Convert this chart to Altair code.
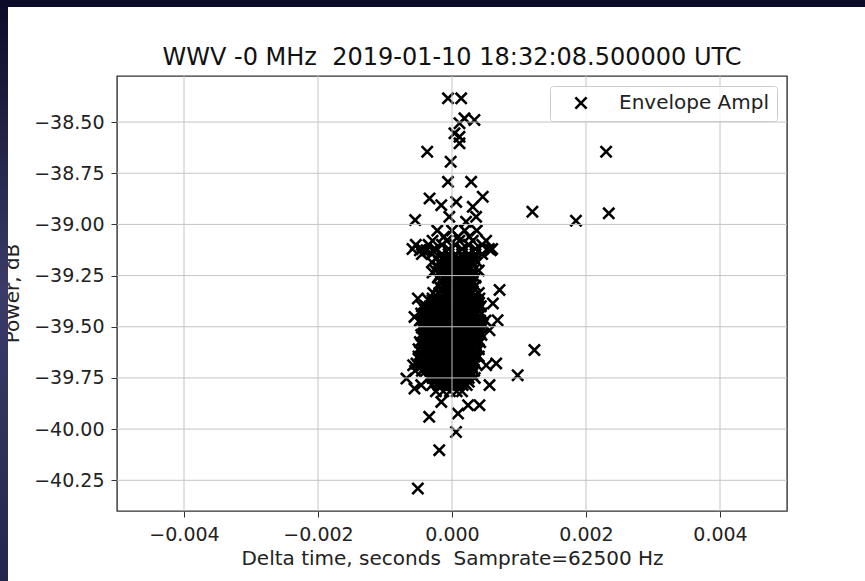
import altair as alt
import pandas as pd

TITLE = "WWV -0 MHz\u00a0 2019-01-10 18:32:08.500000 UTC"
X_TITLE = "Delta time, seconds\u00a0 Samprate=62500 Hz"
Y_TITLE = "Power, dB"
SERIES = "Envelope Ampl"

x_ticks = [-0.004, -0.002, 0.0, 0.002, 0.004]
y_ticks = [-38.5, -38.75, -39.0, -39.25, -39.5, -39.75, -40.0, -40.25]
x_domain = [-0.005, 0.005]
y_domain = [-40.40, -38.275]

# scattered points around the central cluster (seconds, dB)
outlier_x = [-0.6e-4, 1.37e-4, 1.86e-4, 3.35e-4, 1.12e-4, 0.37e-4, 1.12e-4, 1.12e-4,
             -3.7e-4, 23.0e-4, -0.2e-4, -0.6e-4, 2.86e-4, -3.35e-4, 4.59e-4, -1.6e-4,
             0.63e-4, 3.1e-4, 12.0e-4, 23.4e-4, 18.5e-4, -5.5e-4, 3.6e-4, 2.1e-4,
             -0.4e-4, -4.8e-4, -3.8e-4, -2.9e-4, 5.8e-4, -2.9e-4, 3.1e-4, -1.4e-4,
             7.1e-4, -5.1e-4, -2.9e-4, 4.1e-4, 6.1e-4, -5.6e-4, 6.8e-4, 5.6e-4,
             12.3e-4, 6.6e-4, 5.1e-4, -5.8e-4, -6.8e-4, 9.8e-4, -5.6e-4, -4.6e-4,
             5.6e-4, -1.6e-4, 2.4e-4, 4.1e-4, -3.4e-4, 0.9e-4, 0.6e-4, -1.9e-4, -5.1e-4]
outlier_y = [-38.384, -38.384, -38.482, -38.490, -38.506, -38.555, -38.572, -38.604,
             -38.645, -38.645, -38.694, -38.792, -38.792, -38.873, -38.865, -38.906,
             -38.890, -38.914, -38.938, -38.946, -38.982, -38.979, -38.963, -38.987,
             -38.963, -39.126, -39.126, -39.126, -39.126, -39.235, -39.280, -39.280,
             -39.320, -39.362, -39.362, -39.362, -39.386, -39.452, -39.468, -39.517,
             -39.614, -39.679, -39.688, -39.688, -39.753, -39.737, -39.802, -39.785,
             -39.785, -39.867, -39.883, -39.883, -39.940, -39.924, -40.014, -40.103, -40.290]

# dense core of the cluster, read row by row: (dB, [seconds ...])
core_rows = [
    (-39.030, [-2.2e-4, 0.0, 1.9e-4, 3.7e-4]),
    (-39.060, [-1.2e-4, 0.9e-4, 2.6e-4]),
    (-39.080, [-2.9e-4, -0.8e-4, 1.1e-4, 3.1e-4, 5.1e-4]),
    (-39.100, [-5.4e-4, -3.5e-4, -1.5e-4, 0.5e-4, 2.5e-4, 4.5e-4]),
    (-39.120, [-5.9e-4, -4.5e-4, -2.5e-4, -0.5e-4, 1.5e-4, 3.5e-4, 5.5e-4, 6.0e-4]),
    (-39.145, [-4.5e-4, -3.0e-4, -1.5e-4, -0.5e-4, 0.5e-4, 1.5e-4, 2.5e-4, 3.5e-4, 4.5e-4]),
    (-39.165, [-2.3e-4, -1.4e-4, -0.6e-4, 0.2e-4, 1.0e-4, 1.8e-4, 2.6e-4, 3.3e-4]),
    (-39.185, [-3.0e-4, -1.9e-4, -1.0e-4, -0.2e-4, 0.6e-4, 1.4e-4, 2.2e-4, 3.0e-4, 3.8e-4]),
    (-39.205, [-2.2e-4, -1.4e-4, -0.6e-4, 0.2e-4, 1.0e-4, 1.8e-4, 2.6e-4]),
    (-39.225, [-2.5e-4, -1.6e-4, -0.8e-4, 0.0, 0.8e-4, 1.6e-4, 2.4e-4, 3.2e-4, 4.0e-4]),
    (-39.245, [-1.8e-4, -1.0e-4, -0.2e-4, 0.6e-4, 1.4e-4, 2.2e-4, 3.0e-4]),
    (-39.260, [-2.1e-4, -1.3e-4, -0.5e-4, 0.3e-4, 1.1e-4, 1.9e-4, 2.7e-4, 3.5e-4]),
    (-39.280, [-1.6e-4, -0.8e-4, 0.0, 0.8e-4, 1.6e-4, 2.4e-4]),
    (-39.300, [-2.0e-4, -1.2e-4, -0.4e-4, 0.4e-4, 1.2e-4, 2.0e-4, 2.8e-4, 3.5e-4]),
    (-39.318, [-1.5e-4, -0.7e-4, 0.1e-4, 0.9e-4, 1.7e-4, 2.5e-4]),
    (-39.335, [-2.8e-4, -1.9e-4, -1.1e-4, -0.3e-4, 0.5e-4, 1.3e-4, 2.1e-4, 2.9e-4, 4.0e-4]),
    (-39.352, [-2.3e-4, -1.5e-4, -0.7e-4, 0.1e-4, 0.9e-4, 1.7e-4, 2.5e-4, 3.2e-4]),
    (-39.370, [-3.5e-4, -2.9e-4, -2.3e-4, -1.7e-4, -1.1e-4, -0.5e-4, 0.1e-4, 0.7e-4, 1.3e-4,
               1.9e-4, 2.5e-4, 3.1e-4, 3.5e-4]),
    (-39.385, [-3.0e-4, -2.4e-4, -1.8e-4, -1.2e-4, -0.6e-4, 0.0, 0.6e-4, 1.2e-4, 1.8e-4,
               2.4e-4, 3.0e-4, 3.6e-4, 4.0e-4]),
    (-39.400, [-4.5e-4, -3.9e-4, -3.3e-4, -2.7e-4, -2.1e-4, -1.5e-4, -0.9e-4, -0.3e-4, 0.3e-4,
               0.9e-4, 1.5e-4, 2.1e-4, 2.7e-4, 3.3e-4, 3.9e-4, 4.3e-4]),
    (-39.418, [-4.0e-4, -3.4e-4, -2.8e-4, -2.2e-4, -1.6e-4, -1.0e-4, -0.4e-4, 0.2e-4, 0.8e-4,
               1.4e-4, 2.0e-4, 2.6e-4, 3.2e-4, 3.9e-4]),
    (-39.435, [-4.6e-4, -4.0e-4, -3.4e-4, -2.8e-4, -2.2e-4, -1.6e-4, -1.0e-4, -0.4e-4, 0.2e-4,
               0.8e-4, 1.4e-4, 2.0e-4, 2.6e-4, 3.2e-4, 3.8e-4, 4.4e-4]),
    (-39.452, [-4.1e-4, -3.5e-4, -2.9e-4, -2.3e-4, -1.7e-4, -1.1e-4, -0.5e-4, 0.1e-4, 0.7e-4,
               1.3e-4, 1.9e-4, 2.5e-4, 3.1e-4, 3.9e-4]),
    (-39.470, [-4.8e-4, -4.2e-4, -3.6e-4, -3.0e-4, -2.4e-4, -1.8e-4, -1.2e-4, -0.6e-4, 0.0,
               0.6e-4, 1.2e-4, 1.8e-4, 2.4e-4, 3.0e-4, 3.6e-4, 4.2e-4, 5.0e-4]),
    (-39.488, [-4.3e-4, -3.7e-4, -3.1e-4, -2.5e-4, -1.9e-4, -1.3e-4, -0.7e-4, -0.1e-4, 0.5e-4,
               1.1e-4, 1.7e-4, 2.3e-4, 2.9e-4, 3.5e-4, 4.1e-4, 4.6e-4]),
    (-39.505, [-4.5e-4, -3.9e-4, -3.3e-4, -2.7e-4, -2.1e-4, -1.5e-4, -0.9e-4, -0.3e-4, 0.3e-4,
               0.9e-4, 1.5e-4, 2.1e-4, 2.7e-4, 3.3e-4, 3.9e-4, 4.5e-4]),
    (-39.522, [-4.0e-4, -3.4e-4, -2.8e-4, -2.2e-4, -1.6e-4, -1.0e-4, -0.4e-4, 0.2e-4, 0.8e-4,
               1.4e-4, 2.0e-4, 2.6e-4, 3.2e-4, 4.0e-4]),
    (-39.540, [-4.6e-4, -4.0e-4, -3.4e-4, -2.8e-4, -2.2e-4, -1.6e-4, -1.0e-4, -0.4e-4, 0.2e-4,
               0.8e-4, 1.4e-4, 2.0e-4, 2.6e-4, 3.2e-4, 3.8e-4, 4.4e-4]),
    (-39.558, [-4.2e-4, -3.6e-4, -3.0e-4, -2.4e-4, -1.8e-4, -1.2e-4, -0.6e-4, 0.0, 0.6e-4,
               1.2e-4, 1.8e-4, 2.4e-4, 3.0e-4, 3.8e-4]),
    (-39.575, [-4.8e-4, -4.2e-4, -3.6e-4, -3.0e-4, -2.4e-4, -1.8e-4, -1.2e-4, -0.6e-4, 0.0,
               0.6e-4, 1.2e-4, 1.8e-4, 2.4e-4, 3.0e-4, 3.6e-4, 4.2e-4]),
    (-39.592, [-4.4e-4, -3.8e-4, -3.2e-4, -2.6e-4, -2.0e-4, -1.4e-4, -0.8e-4, -0.2e-4, 0.4e-4,
               1.0e-4, 1.6e-4, 2.2e-4, 2.8e-4, 3.6e-4]),
    (-39.610, [-5.0e-4, -4.4e-4, -3.8e-4, -3.2e-4, -2.6e-4, -2.0e-4, -1.4e-4, -0.8e-4, -0.2e-4,
               0.4e-4, 1.0e-4, 1.6e-4, 2.2e-4, 2.8e-4, 3.4e-4, 4.0e-4]),
    (-39.628, [-4.5e-4, -3.9e-4, -3.3e-4, -2.7e-4, -2.1e-4, -1.5e-4, -0.9e-4, -0.3e-4, 0.3e-4,
               0.9e-4, 1.5e-4, 2.1e-4, 2.7e-4, 3.5e-4]),
    (-39.645, [-5.0e-4, -4.4e-4, -3.8e-4, -3.2e-4, -2.6e-4, -2.0e-4, -1.4e-4, -0.8e-4, -0.2e-4,
               0.4e-4, 1.0e-4, 1.6e-4, 2.2e-4, 2.8e-4, 3.4e-4, 4.0e-4]),
    (-39.662, [-4.8e-4, -4.2e-4, -3.6e-4, -3.0e-4, -2.4e-4, -1.8e-4, -1.2e-4, -0.6e-4, 0.0,
               0.6e-4, 1.2e-4, 1.8e-4, 2.4e-4, 3.2e-4]),
    (-39.680, [-5.3e-4, -4.7e-4, -4.1e-4, -3.5e-4, -2.9e-4, -2.3e-4, -1.7e-4, -1.1e-4, -0.5e-4,
               0.1e-4, 0.7e-4, 1.3e-4, 1.9e-4, 2.5e-4, 3.0e-4, 3.5e-4]),
    (-39.698, [-4.0e-4, -3.4e-4, -2.8e-4, -2.2e-4, -1.6e-4, -1.0e-4, -0.4e-4, 0.2e-4, 0.8e-4,
               1.4e-4, 2.0e-4, 2.6e-4, 3.0e-4]),
    (-39.715, [-5.5e-4, -4.5e-4, -3.9e-4, -3.3e-4, -2.7e-4, -2.1e-4, -1.5e-4, -0.9e-4, -0.3e-4,
               0.3e-4, 0.9e-4, 1.5e-4, 2.1e-4, 2.7e-4, 3.3e-4]),
    (-39.732, [-3.0e-4, -2.4e-4, -1.8e-4, -1.2e-4, -0.6e-4, 0.0, 0.6e-4, 1.2e-4, 1.8e-4,
               2.4e-4, 3.0e-4]),
    (-39.750, [-3.5e-4, -2.9e-4, -2.3e-4, -1.7e-4, -1.1e-4, -0.5e-4, 0.1e-4, 0.7e-4, 1.3e-4,
               1.9e-4, 2.5e-4, 3.4e-4]),
    (-39.768, [-2.5e-4, -1.9e-4, -1.3e-4, -0.7e-4, -0.1e-4, 0.5e-4, 1.1e-4, 1.7e-4, 2.5e-4]),
    (-39.785, [-3.0e-4, -2.0e-4, -1.4e-4, -0.8e-4, -0.2e-4, 0.4e-4, 1.0e-4, 1.6e-4, 2.2e-4]),
    (-39.815, [-2.4e-4, -1.3e-4, -0.3e-4, 0.7e-4, 1.5e-4]),
]

X_PATH = "M-1,-1L1,1M-1,1L1,-1"
FONT = "DejaVu Sans"
GRID = "#c4c4c4"

rows = [{"t": x, "p": y, "series": SERIES} for x, y in zip(outlier_x, outlier_y)]
for y, xs in core_rows:
    rows += [{"t": x, "p": y, "series": SERIES} for x in xs]
df = pd.DataFrame(rows)

x_enc = alt.X("t:Q",
              scale=alt.Scale(domain=x_domain, nice=False, zero=False),
              axis=alt.Axis(values=x_ticks, format=".3f", title=X_TITLE,
                            labelPadding=8, titleY=53, titleX=335, titleFontSize=20,
                            titleAlign="center", titleBaseline="alphabetic"))
y_enc = alt.Y("p:Q",
              scale=alt.Scale(domain=y_domain, nice=False, zero=False),
              axis=alt.Axis(values=y_ticks, format=".2f", title=Y_TITLE,
                            labelPadding=7, titleX=-99, titleY=217, titleAngle=270,
                            titleFontSize=20,
                            titleAlign="center", titleBaseline="alphabetic"))

points = alt.Chart(df).mark_point(
    shape=X_PATH, filled=False, size=125, strokeWidth=2.6, opacity=1
).encode(
    x=x_enc,
    y=y_enc,
    color=alt.Color("series:N",
                    scale=alt.Scale(domain=[SERIES], range=["black"]),
                    legend=alt.Legend(title=None, orient="top-right", offset=10,
                                      padding=7, fillColor="rgba(255,255,255,0.8)",
                                      strokeColor="#cccccc", cornerRadius=3,
                                      symbolType=X_PATH, symbolSize=125,
                                      symbolStrokeWidth=2.6, symbolStrokeColor="black",
                                      symbolFillColor="transparent", symbolOffset=14,
                                      labelFont=FONT, labelFontSize=20,
                                      labelColor="#222222", labelOffset=28)),
)

# grid lines drawn over the markers, as matplotlib does
hgrid = alt.Chart(pd.DataFrame({"p": y_ticks})).mark_rule(
    color=GRID, strokeWidth=1).encode(y=alt.Y("p:Q", title=Y_TITLE))
vgrid = alt.Chart(pd.DataFrame({"t": x_ticks})).mark_rule(
    color=GRID, strokeWidth=1).encode(x=alt.X("t:Q", title=X_TITLE))

one = pd.DataFrame({"k": [0]})
left_strip = alt.Chart(one).mark_rect(
    color=alt.LinearGradient(
        gradient="linear", x1=0, x2=0, y1=0, y2=1,
        stops=[alt.GradientStop(color="#0c0c28", offset=0),
               alt.GradientStop(color="#3a3c68", offset=0.5),
               alt.GradientStop(color="#24264c", offset=1)])
).encode(x=alt.value(-117), x2=alt.value(-109), y=alt.value(-76), y2=alt.value(505))

top_strip = alt.Chart(one).mark_rect(color="#0c0c28").encode(
    x=alt.value(-117), x2=alt.value(748), y=alt.value(-76), y2=alt.value(-69))

title_text = alt.Chart(one).mark_text(
    text=TITLE, font=FONT, fontSize=24, color="#111111",
    align="center", baseline="alphabetic"
).encode(x=alt.value(335), y=alt.value(-11))

chart = alt.layer(points, hgrid, vgrid, left_strip, top_strip, title_text).properties(
    width=670, height=435,
    padding={"left": 117, "top": 76, "right": 78, "bottom": 70},
    autosize=alt.AutoSizeParams(type="none"),
).configure(background="white").configure_view(
    stroke="#333333", strokeWidth=1.4
).configure_axis(
    grid=False, domain=False,
    tickColor="#333333", tickSize=6, tickWidth=1,
    labelFont=FONT, labelFontSize=19, labelColor="#222222",
    titleFont=FONT, titleFontSize=19, titleFontWeight="normal", titleColor="#222222",
)

chart.save("out.html", embed_options={"renderer": "svg", "actions": False})
